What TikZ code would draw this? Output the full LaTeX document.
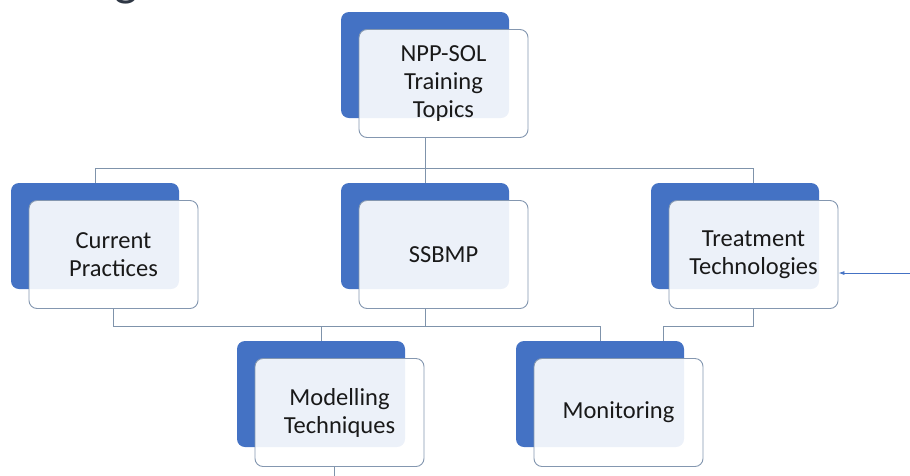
\documentclass[tikz,border=0pt]{standalone}
\usepackage{fontspec}
\setmainfont{Carlito}
\usetikzlibrary{arrows.meta}
\definecolor{boxblue}{HTML}{4472C4}
\definecolor{edgegray}{HTML}{8497B0}
\definecolor{linkgray}{HTML}{7F93AB}
\definecolor{titlegray}{HTML}{2E3744}

\begin{document}
\begin{tikzpicture}[x=1pt,y=-1pt,
    backbox/.style={fill=boxblue,rounded corners=8pt,minimum width=168pt,minimum height=106pt,inner sep=0pt},
    frontbox/.style={draw=edgegray,line width=0.9pt,fill=white,fill opacity=0.9,text opacity=1,
        rounded corners=8pt,minimum width=169pt,minimum height=108pt,inner sep=0pt,align=center,
        font=\fontsize{24.5}{28}\selectfont,text=black!90,shift={(18.5,18.5)}},
    link/.style={draw=linkgray,line width=0.9pt}]
    \useasboundingbox (0,0) rectangle (910,475);
    \begin{scope}
    \clip (0,0) rectangle (910,20);
    \node[anchor=base east,inner sep=0pt,text=titlegray,font=\fontsize{50}{50}\selectfont] (title) at (138,-5) {Training};
    \end{scope}
    \node[backbox] (topB) at (425,65) {};
    \node[frontbox] (top) at (topB) {NPP-SOL\\Training\\Topics};
    \node[backbox] (curB) at (95,236) {};
    \node[frontbox] (cur) at (curB) {Current\\Practices};
    \node[backbox] (ssbB) at (425,236) {};
    \node[frontbox] (ssb) at (ssbB) {SSBMP};
    \node[backbox] (treatB) at (735,236) {};
    \node[frontbox] (treat) at (treatB) {Treatment\\Technologies};
    \node[backbox] (modB) at (321,394) {};
    \node[frontbox] (mod) at (modB) {Modelling\\Techniques};
    \node[backbox] (monB) at (600,394) {};
    \node[frontbox] (mon) at (monB) {Monitoring};
    \draw[link] (topB |- top.south) -- ++(0,30) coordinate (hub1);
    \draw[link] (curB.north) |- (hub1) -| (treat |- treatB.north);
    \draw[link] (hub1) -- (ssbB.north);
    \draw[link] (ssbB |- ssb.south) -- ++(0,17) coordinate (hub2);
    \draw[link] (cur.south) |- (hub2);
    \draw[link] (hub2) -| (modB.north);
    \draw[link] (hub2) -| (monB.north);
    \draw[link] (treat.south) -- ++(0,17) -| ([xshift=-21pt]monB.north east);
    \draw[link] ([xshift=-5pt]mod.south) -- ++(0,12);
    \coordinate (feed) at (910,273);
    \draw[boxblue,line width=0.8pt,-{Latex[length=6pt,width=4pt]}] (feed) -- (treat.east |- feed);
\end{tikzpicture}
\end{document}
